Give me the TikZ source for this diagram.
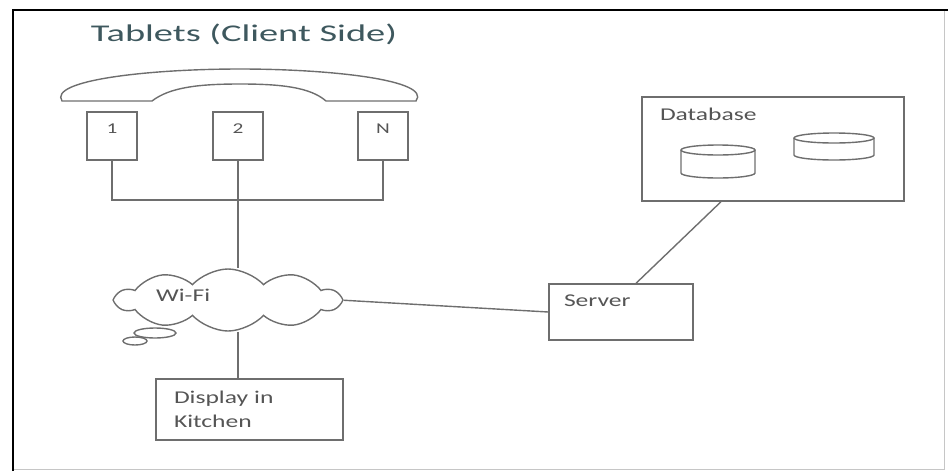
\documentclass[tikz,border=0pt]{standalone}
\usepackage{fontspec}
\setmainfont[FakeStretch=1.42]{Carlito}
\newfontfamily\titlefont[FakeStretch=1.6]{Carlito}
\usetikzlibrary{shapes.symbols,positioning}
\definecolor{linegray}{RGB}{110,110,110}
\definecolor{txtgray}{RGB}{85,85,85}
\definecolor{titleslate}{RGB}{62,88,94}

%% small stacked disk for the database
\newcommand{\dbdisk}[4]{% cx, top, bottom, rx
  \draw (#1,#2) ellipse ({#4} and 5);
  \draw (#1-#4,#2) -- (#1-#4,#3)
        arc[start angle=180, end angle=0, x radius=#4, y radius=5] -- (#1+#4,#2);
}

\begin{document}
\begin{tikzpicture}[x=1pt, y=-1pt, line width=1.4pt, color=linegray, text=txtgray,
        font=\fontsize{18}{24}\selectfont,
        panel/.style={draw, rectangle, inner sep=0pt},
        inlabel/.style={anchor=north west, inner sep=0pt, text=txtgray},
        tablet/.style={draw, rectangle, minimum width=50pt, minimum height=48pt,
              label={[anchor=north, inner sep=0pt, yshift=-12pt, text=txtgray,
                      font=\fontsize{15}{18}\selectfont]north:#1}}]
        \useasboundingbox (0,0) rectangle (948,472);
        %% frame
        \draw[gray!45, line width=1pt] (944,10) -- (944,469) -- (13,469);
        \draw[black, line width=2.5pt] (13,471) -- (13,10) -- (948,10);

        \node[text=titleslate, font=\titlefont\fontsize{24}{28}\selectfont] (title)
            at (244,34) {Tablets (Client Side)};
        %% handset outline over the tablets
        \draw (62,101) .. controls (48,80) and (150,69) .. (240,69)
              .. controls (330,69) and (432,80) .. (416,101)
              -- (326,101) .. controls (310,87) and (280,84) .. (240,84)
              .. controls (200,84) and (170,87) .. (152,101) -- cycle;

        \node[tablet=1] (t1) at (112,136) {};
        \node[tablet=2] (t2) at (238,136) {};
        \node[tablet=N] (tN) at (383,136) {};
        \coordinate (bus) at (238,200);

        \node[cloud, draw, cloud puffs=10, cloud puff arc=95, aspect=3.7,
              minimum width=223pt, minimum height=62pt, inner sep=0pt,
              label={[anchor=west, xshift=43pt, yshift=4pt, inner sep=0pt]west:Wi-Fi}]
            (wifi) at (228,300) {};
        \draw (155,333) ellipse (21 and 5);
        \draw (135,341) ellipse (12 and 4);

        \node[panel, minimum width=187pt, minimum height=61pt, text width=151pt,
              align=left] (disp) at (249.5,409.5) {Display in\\Kitchen};
        \node[panel, minimum width=144pt, minimum height=56pt,
              label={[inlabel, xshift=15pt, yshift=-11pt]north west:Server}]
            (srv) at (621,312) {};
        \node[panel, minimum width=262pt, minimum height=104pt,
              label={[inlabel, xshift=18pt, yshift=-11pt]north west:Database}]
            (db) at (773,149) {};
        \dbdisk{718}{150}{173}{37}
        \dbdisk{834}{138}{155}{40}

        %% tablets to the bus
        \draw (t1.south) -- (t1.south |- bus) -- (tN.south |- bus) -- (tN.south);
        \draw (t2.south) -- (t2.south |- wifi.north);
        %% network links
        \draw (t2.south |- wifi.south) -- (t2.south |- disp.north);
        \draw (wifi.east) -- (srv.west);
        \draw ([xshift=15pt]srv.north) -- ([xshift=-52pt]db.south);
    \end{tikzpicture}
\end{document}
